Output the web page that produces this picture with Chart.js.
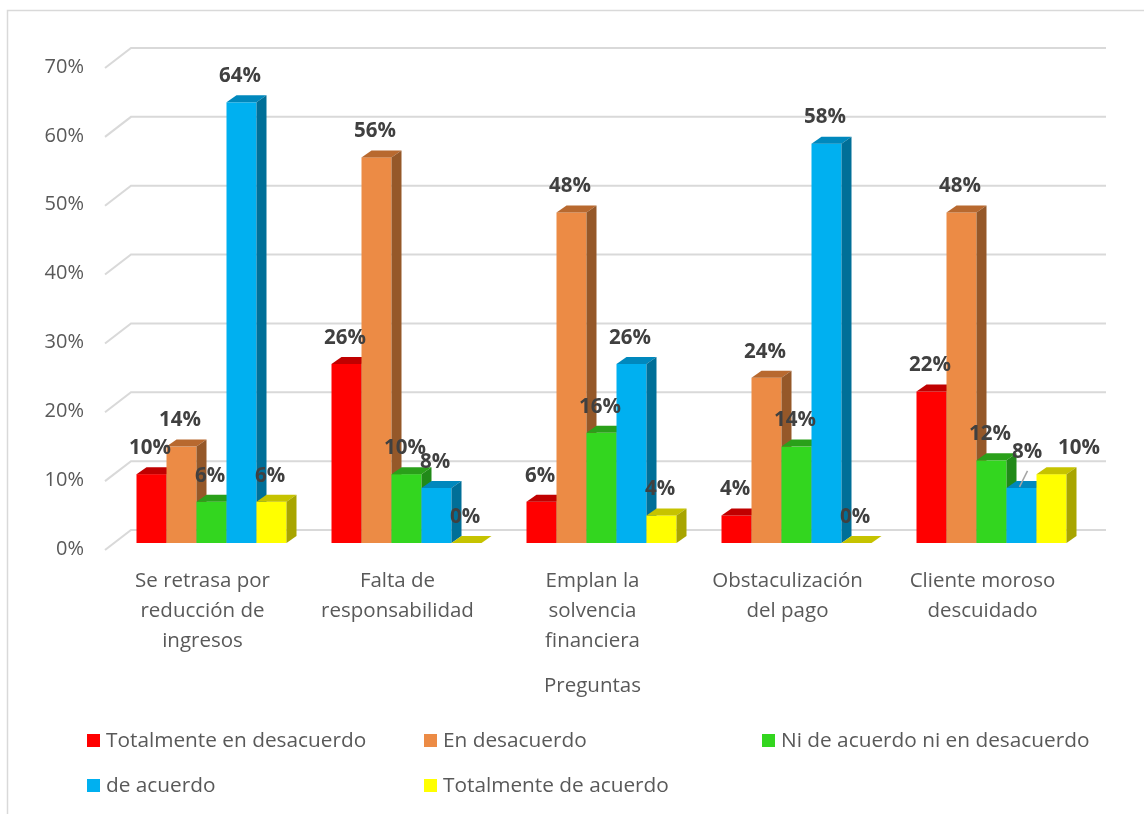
<!DOCTYPE html>
<html lang="es">
<head>
<meta charset="utf-8">
<title>Preguntas – morosidad</title>
<script src="https://cdn.jsdelivr.net/npm/chart.js@4.4.1/dist/chart.umd.min.js"></script>
<style>
  html, body { margin: 0; padding: 0; background: #ffffff; }
  canvas { display: block; }
</style>
</head>
<body>
<canvas id="chart" width="1144" height="814"></canvas>
<script>
// ---- data ----
const categories = [
  ['Se retrasa por', 'reducción de', 'ingresos'],
  ['Falta de', 'responsabilidad'],
  ['Emplan la', 'solvencia', 'financiera'],
  ['Obstaculización', 'del pago'],
  ['Cliente moroso', 'descuidado']
];
const seriesNames = [
  'Totalmente en desacuerdo',
  'En desacuerdo',
  'Ni de acuerdo ni en desacuerdo',
  'de acuerdo',
  'Totalmente de acuerdo'
];
const totalmenteDesacuerdo = [10, 26, 6, 4, 22];
const enDesacuerdo        = [14, 56, 48, 24, 48];
const niAcuerdoNiDesac    = [6, 10, 16, 14, 12];
const deAcuerdo           = [64, 8, 26, 58, 8];
const totalmenteAcuerdo   = [6, 0, 4, 0, 10];
const yTickValues = [0, 10, 20, 30, 40, 50, 60, 70];
const axisTitle = 'Preguntas';

// ---- styling ----
const FONT = "'Open Sans', 'Noto Sans', sans-serif";
const faceColors = [
  { front: '#FF0000', top: '#C00000', side: '#A30000' },
  { front: '#EC8B45', top: '#B8692F', side: '#955829' },
  { front: '#33D61F', top: '#2AA01A', side: '#218A19' },
  { front: '#00B0F0', top: '#0088BD', side: '#006F98' },
  { front: '#FFFF00', top: '#C6C300', side: '#A8A500' }
];
// extrusion of each bar (right, up) and of the whole floor/wall box
const BAR_DX = 10, BAR_DY = 7;
const WALL_BACK_DX = 17, WALL_BACK_DY = 13, WALL_FRONT_DX = 9, WALL_FRONT_DY = 7;
// a couple of value labels are moved aside to avoid overlaps: [dataset, index] -> offset
const labelNudges = { '3-4': { dx: 7, dy: -10, leader: true }, '4-4': { dx: 29, dy: 0 } };

const seriesValues = [totalmenteDesacuerdo, enDesacuerdo, niAcuerdoNiDesac, deAcuerdo, totalmenteAcuerdo];

const depthPlugin = {
  id: 'depth3d',
  beforeDraw(chart) {
    const { ctx } = chart;
    ctx.save();
    ctx.fillStyle = '#ffffff';
    ctx.fillRect(0, 0, chart.width, chart.height);
    // outer frame
    ctx.strokeStyle = '#d9d9d9';
    ctx.lineWidth = 1.5;
    ctx.beginPath();
    ctx.moveTo(7.5, chart.height + 2);
    ctx.lineTo(7.5, 10.5);
    ctx.lineTo(chart.width + 2, 10.5);
    ctx.stroke();
    ctx.restore();
  },
  beforeDatasetsDraw(chart) {
    const { ctx, chartArea: a, scales } = chart;
    const ys = scales.y;
    ctx.save();

    // back wall gridlines with their perspective returns on the side wall
    ctx.strokeStyle = '#d9d9d9';
    ctx.lineWidth = 2;
    ys.ticks.forEach(t => {
      const py = ys.getPixelForValue(t.value);
      ctx.beginPath();
      ctx.moveTo(a.left - WALL_FRONT_DX, py + WALL_FRONT_DY);
      ctx.lineTo(a.left + WALL_BACK_DX, py - WALL_BACK_DY);
      ctx.lineTo(a.right + WALL_BACK_DX, py - WALL_BACK_DY);
      ctx.stroke();
    });

    // extruded bars, left to right inside each group
    chart.data.datasets.forEach((ds, di) => {
      const meta = chart.getDatasetMeta(di);
      const c = faceColors[di];
      meta.data.forEach(bar => {
        const { x, y, base, width } = bar.getProps(['x', 'y', 'base', 'width'], true);
        const l = x - width / 2, r = x + width / 2;
        const top = Math.min(y, base);
        // front
        ctx.fillStyle = c.front;
        ctx.fillRect(l, top, width, base - top);
        // top
        ctx.fillStyle = c.top;
        ctx.beginPath();
        ctx.moveTo(l, top);
        ctx.lineTo(l + BAR_DX, top - BAR_DY);
        ctx.lineTo(r + BAR_DX, top - BAR_DY);
        ctx.lineTo(r, top);
        ctx.closePath();
        ctx.fill();
        // side
        if (base - top > 0.5) {
          ctx.fillStyle = c.side;
          ctx.beginPath();
          ctx.moveTo(r, top);
          ctx.lineTo(r + BAR_DX, top - BAR_DY);
          ctx.lineTo(r + BAR_DX, base - BAR_DY);
          ctx.lineTo(r, base);
          ctx.closePath();
          ctx.fill();
        }
      });
    });

    // value labels
    ctx.font = `bold 20.5px ${FONT}`;
    ctx.fillStyle = '#404040';
    ctx.textAlign = 'center';
    ctx.textBaseline = 'middle';
    chart.data.datasets.forEach((ds, di) => {
      const meta = chart.getDatasetMeta(di);
      meta.data.forEach((bar, i) => {
        const { x, y } = bar.getProps(['x', 'y'], true);
        const n = labelNudges[di + '-' + i] || { dx: 0, dy: 0 };
        const lx = x - 1.5 + n.dx, ly = y - 26 + n.dy;
        if (n.leader) {
          ctx.save();
          ctx.strokeStyle = '#a6a6a6';
          ctx.lineWidth = 1.5;
          ctx.beginPath();
          ctx.moveTo(x - 2, y - 1);
          ctx.lineTo(x + 6, y - 17);
          ctx.stroke();
          ctx.restore();
        }
        ctx.fillText(ds.data[i] + '%', lx, ly);
      });
    });
    ctx.restore();
    return false;
  },
  afterDraw(chart) {
    const { ctx, chartArea: a } = chart;
    ctx.save();
    // axis title, centred on the front edge of the floor
    ctx.font = `20.5px ${FONT}`;
    ctx.fillStyle = '#595959';
    ctx.textAlign = 'center';
    ctx.textBaseline = 'middle';
    ctx.fillText(axisTitle, (a.left + a.right) / 2 - WALL_FRONT_DX, 686);

    // legend laid out on a fixed grid
    ctx.font = `20.8px ${FONT}`;
    ctx.textAlign = 'left';
    const cols = [87, 424, 762];
    const rows = [741, 786];
    chart.data.datasets.forEach((ds, di) => {
      const cx = cols[di % 3], cy = rows[Math.floor(di / 3)];
      ctx.fillStyle = faceColors[di].front;
      ctx.fillRect(cx, cy - 7, 13, 13);
      ctx.fillStyle = '#595959';
      ctx.fillText(ds.label, cx + 19, cy);
    });
    ctx.restore();
  }
};

new Chart(document.getElementById('chart'), {
  type: 'bar',
  data: {
    labels: categories,
    datasets: seriesNames.map((name, i) => ({
      label: name,
      data: seriesValues[i],
      backgroundColor: faceColors[i].front,
      categoryPercentage: 150 / 195,
      barPercentage: 1
    }))
  },
  options: {
    responsive: false,
    animation: false,
    layout: { padding: { left: 0, right: 55, top: 61, bottom: 0 } },
    plugins: { legend: { display: false }, tooltip: { enabled: false } },
    scales: {
      x: {
        grid: { display: false, drawTicks: false },
        border: { display: false },
        ticks: {
          color: '#595959',
          font: { family: FONT, size: 20.5, lineHeight: 1.47 },
          padding: 23,
          labelOffset: -WALL_FRONT_DX,
          maxRotation: 0,
          autoSkip: false
        },
        afterFit(scale) { scale.height = 271; }
      },
      y: {
        min: 0,
        max: 70,
        afterBuildTicks(scale) { scale.ticks = yTickValues.map(v => ({ value: v })); },
        grid: { display: false, drawTicks: false },
        border: { display: false },
        ticks: {
          color: '#595959',
          font: { family: FONT, size: 20 },
          padding: 30,
          labelOffset: 6,
          callback: v => v + '%'
        },
        afterFit(scale) { scale.width = 114; }
      }
    }
  },
  plugins: [depthPlugin]
});
</script>
</body>
</html>
